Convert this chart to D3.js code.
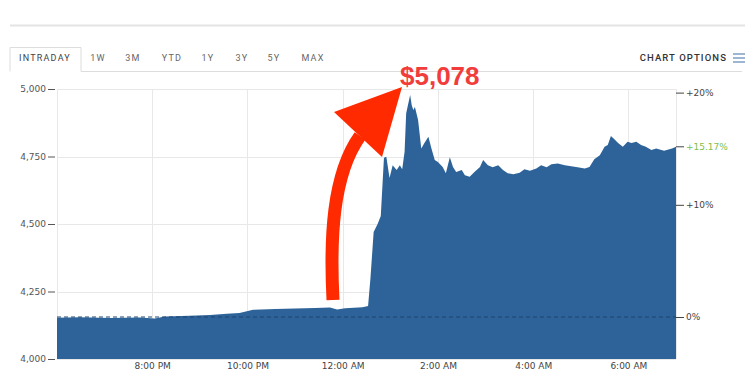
<!DOCTYPE html>
<html>
  <head>
    <script src="https://d3js.org/d3.v7.min.js" charset="utf-8"></script>
    <style>
      body { margin: 0; background: #fff; }
      svg { display: block; }
    </style>
  </head>
  <body>
    <svg id="chart" width="750" height="375"></svg>
    <script>
      // intraday price, times after 18:00 roll to the next day
      var times = ["18:00","18:29","19:07","19:45","20:03","20:16","20:47","21:13","21:34","21:50",
        "22:07","22:35","23:00","23:25","23:44","23:53","00:03","00:25","00:32","00:35",
        "00:39","00:44","00:48","00:52","00:55","00:59","01:03","01:08","01:12","01:15",
        "01:18","01:20","01:25","01:27","01:29","01:31","01:35","01:39","01:43","01:48",
        "01:52","01:56","02:00","02:06","02:10","02:15","02:19","02:23","02:30","02:34",
        "02:40","02:46","02:53","02:57","03:03","03:09","03:16","03:22","03:28","03:35",
        "03:43","03:49","03:56","04:04","04:10","04:17","04:23","04:31","04:40","04:48",
        "04:56","05:05","05:11","05:17","05:24","05:30","05:34","05:38","05:43","05:47",
        "05:53","05:59","06:04","06:10","06:16","06:22","06:29","06:35","06:45","06:55","07:00"];
      var prices = [4153,4155,4152,4154,4150,4157,4160,4163,4168,4170,
        4182,4185,4187,4189,4191,4183,4188,4192,4196,4300,
        4470,4500,4530,4745,4749,4670,4718,4700,4718,4703,
        4768,4910,4978,4940,4922,4933,4885,4780,4800,4823,
        4778,4737,4730,4711,4688,4747,4711,4693,4700,4681,
        4675,4693,4711,4737,4718,4710,4718,4700,4688,4684,
        4690,4703,4697,4706,4718,4710,4721,4724,4718,4714,
        4710,4706,4711,4740,4755,4786,4793,4826,4812,4800,
        4786,4805,4800,4805,4793,4786,4774,4780,4771,4780,4786];
      var openPrice = 4155.5;
      var priceTicks = [4000, 4250, 4500, 4750, 5000];
      var pctTicks = [0, 10, 20];
      var lastPct = 15.17;
      var tabs = ["INTRADAY", "1W", "3M", "YTD", "1Y", "3Y", "5Y", "MAX"];
      var timeTicks = ["20:00", "22:00", "00:00", "02:00", "04:00", "06:00"];
      var peakLabel = "$5,078";

      function toDate(s) {
        var p = s.split(":").map(Number);
        var day = p[0] >= 18 ? 1 : 2;
        return new Date(2017, 11, day, p[0], p[1]);
      }
      var data = times.map((t, i) => ({ t: toDate(t), v: prices[i] }));

      var svg = d3.select("#chart");
      var plotL = 57, plotR = 676, plotT = 89, plotB = 359;

      var x = d3.scaleTime().domain([toDate("18:00"), toDate("07:00")]).range([plotL, plotR]);
      var y = d3.scaleLinear().domain([4000, 5000]).range([plotB, plotT]);

      // header lines and tabs
      svg.append("line").attr("x1", 10).attr("x2", 745).attr("y1", 25.5).attr("y2", 25.5)
        .attr("stroke", "#e4e4e4").attr("stroke-width", 2);
      svg.append("path").attr("d", "M10,71.5V47.5H81V71.5").attr("fill", "none").attr("stroke", "#ddd");
      svg.append("line").attr("x1", 81).attr("x2", 742).attr("y1", 71.5).attr("y2", 71.5).attr("stroke", "#ddd");

      var tabX = [45, 98, 133, 172, 208, 242, 274, 313];
      svg.append("g").selectAll("text").data(tabs).enter().append("text")
        .attr("x", (d, i) => tabX[i]).attr("y", 61).attr("text-anchor", "middle")
        .attr("font-family", "Roboto, sans-serif").attr("font-size", 9)
        .attr("letter-spacing", 1.2).attr("fill", (d, i) => i == 0 ? "#444" : "#666")
        .text(d => d);

      svg.append("text").attr("x", 727).attr("y", 61).attr("text-anchor", "end")
        .attr("font-family", "Roboto, sans-serif").attr("font-size", 9.5).attr("font-weight", 500)
        .attr("letter-spacing", 1.1).attr("fill", "#333").text("CHART OPTIONS");
      svg.append("g").selectAll("line").data([54, 58, 62]).enter().append("line")
        .attr("x1", 733).attr("x2", 745).attr("y1", d => d).attr("y2", d => d)
        .attr("stroke", "#5b86b5").attr("stroke-width", 1.2);

      // grid
      var grid = svg.append("g").attr("stroke", "#e8e8e8").attr("stroke-width", 1);
      grid.selectAll(".h").data(priceTicks).enter().append("line")
        .attr("x1", plotL).attr("x2", plotR).attr("y1", d => Math.round(y(d)) + 0.5).attr("y2", d => Math.round(y(d)) + 0.5);
      grid.selectAll(".v").data(timeTicks.map(toDate).concat(x.domain())).enter().append("line")
        .attr("x1", d => Math.round(x(d)) + 0.5).attr("x2", d => Math.round(x(d)) + 0.5)
        .attr("y1", plotT).attr("y2", plotB);

      // area
      var area = d3.area().x(d => x(d.t)).y0(plotB).y1(d => y(d.v));
      svg.append("path").datum(data).attr("d", area).attr("fill", "#2e6399");

      // previous close dashed line
      svg.append("line").attr("x1", plotL).attr("x2", plotR)
        .attr("y1", y(openPrice)).attr("y2", y(openPrice))
        .attr("stroke", "#1d4570").attr("stroke-dasharray", "4,3").attr("stroke-width", 1);

      // left axis
      var yAxis = d3.axisLeft(y).tickValues(priceTicks).tickFormat(d3.format(",")).tickSize(7).tickPadding(2);
      var gy = svg.append("g").attr("transform", "translate(" + (plotL - 2) + ",0)").call(yAxis);
      gy.select(".domain").remove();
      gy.selectAll("line").attr("stroke", "#555");
      gy.selectAll("text").attr("font-family", "DejaVu Sans, sans-serif").attr("font-size", 9).attr("fill", "#555");

      // right axis in percent of open
      var pctVals = pctTicks.map(p => openPrice * (1 + p / 100));
      var rAxis = d3.axisRight(y).tickValues(pctVals)
        .tickFormat((d, i) => (pctTicks[i] > 0 ? "+" : "") + pctTicks[i] + "%").tickSize(8).tickPadding(2);
      var gr = svg.append("g").attr("transform", "translate(" + plotR + ",0)").call(rAxis);
      gr.select(".domain").remove();
      gr.selectAll("line").attr("stroke", "#444");
      gr.selectAll("text").attr("font-family", "DejaVu Sans, sans-serif").attr("font-size", 9).attr("fill", "#444");

      var lastY = y(openPrice * (1 + lastPct / 100));
      svg.append("line").attr("x1", plotR).attr("x2", plotR + 8).attr("y1", lastY).attr("y2", lastY).attr("stroke", "#444");
      svg.append("text").attr("x", plotR + 10).attr("y", lastY).attr("dy", "0.32em")
        .attr("font-family", "DejaVu Sans, sans-serif").attr("font-size", 9).attr("fill", "#7cc04b")
        .text("+" + lastPct.toFixed(2) + "%");

      // bottom axis
      var xAxis = d3.axisBottom(x).tickValues(timeTicks.map(toDate)).tickFormat(d3.timeFormat("%-I:%M %p")).tickSize(0).tickPadding(4);
      var gx = svg.append("g").attr("transform", "translate(0," + plotB + ")").call(xAxis);
      gx.select(".domain").remove();
      gx.selectAll("text").attr("font-family", "DejaVu Sans, sans-serif").attr("font-size", 9).attr("fill", "#444");

      // annotation
      svg.append("path").attr("d", "M333,300 C330,240 332,175 360,136")
        .attr("fill", "none").attr("stroke", "#ff2a00").attr("stroke-width", 13);
      svg.append("path").attr("d", "M334,112 L402,87 L382,157 Z").attr("fill", "#ff2a00");
      svg.append("text").attr("x", 400).attr("y", 85)
        .attr("font-family", "Liberation Sans, Arial, sans-serif").attr("font-weight", "bold")
        .attr("font-size", 26).attr("fill", "#f23c3c").text(peakLabel);
    </script>
  </body>
</html>
